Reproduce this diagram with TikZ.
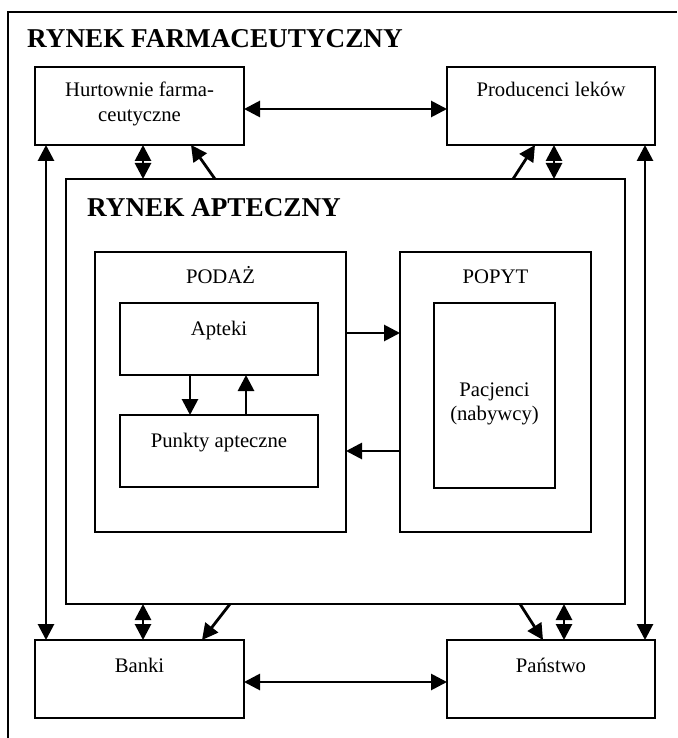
\documentclass[tikz,border=0pt]{standalone}
\usepackage{fontspec}
\setmainfont{Liberation Serif}
\usetikzlibrary{arrows.meta}
\begin{document}
\begin{tikzpicture}[x=1pt,y=-1pt,
  boxn/.style={draw,line width=1.8pt,rectangle,inner sep=0pt,outer sep=0pt,anchor=north west},
  txt/.style={inner sep=0pt,anchor=base,font=\fontsize{20.7}{24}\selectfont},
  ttl/.style={inner sep=0pt,anchor=base west,font=\fontsize{27.2}{30}\selectfont\bfseries},
  arr/.style={line width=2.8pt,-{Triangle[length=16pt,width=16pt]}},
  darr/.style={line width=2.8pt,{Triangle[length=16pt,width=16pt]}-{Triangle[length=16pt,width=16pt]}},
  frame/.style={line width=1.8pt}]
\useasboundingbox (0,0) rectangle (677,738);
% outer frame
\coordinate (fb) at (8,738);
\coordinate (ftl) at (8,12);
\coordinate (ftr) at (677,12);
\draw[frame] (fb) -- (ftl) -- (ftr);
\node[ttl] (t1) at (27,47.3) {RYNEK FARMACEUTYCZNY};
% boxes
\node[boxn,minimum width=209pt,minimum height=78pt] (hurt) at (35,67) {};
\node[boxn,minimum width=208pt,minimum height=78pt] (prod) at (447,67) {};
\node[boxn,minimum width=559pt,minimum height=425pt] (rynek) at (66,179) {};
\node[boxn,minimum width=251pt,minimum height=280pt] (podaz) at (95,252) {};
\node[boxn,minimum width=191pt,minimum height=280pt] (popyt) at (400,252) {};
\node[boxn,minimum width=198pt,minimum height=72pt] (apteki) at (120,303) {};
\node[boxn,minimum width=198pt,minimum height=72pt] (punkty) at (120,415) {};
\node[boxn,minimum width=121pt,minimum height=185pt] (pacj) at (434,303) {};
\node[boxn,minimum width=209pt,minimum height=78pt] (banki) at (35,640) {};
\node[boxn,minimum width=208pt,minimum height=78pt] (panstwo) at (447,640) {};
% texts
\node[txt] (th1) at (139.5,96.5) {Hurtownie farma-};
\node[txt] (th2) at (139.5,121.5) {ceutyczne};
\node[txt] (tp) at (551,97) {Producenci leków};
\node[ttl] (t2) at (87,216.5) {RYNEK APTECZNY};
\node[txt] (tpo) at (220.5,283) {PODAŻ};
\node[txt] (tap) at (219,335) {Apteki};
\node[txt] (tpu) at (219,447) {Punkty apteczne};
\node[txt] (tpy) at (495.5,283) {POPYT};
\node[txt] (tpa1) at (494.5,396) {Pacjenci};
\node[txt] (tpa2) at (494.5,420) {(nabywcy)};
\node[txt] (tb) at (139.5,672) {Banki};
\node[txt] (tpn) at (551,672) {Państwo};
% helper coordinates
\coordinate (xL) at (46,0);
\coordinate (xR) at (645,0);
\coordinate (xHd) at (143,0);
\coordinate (xPd) at (554,0);
\coordinate (xBd) at (143,0);
\coordinate (xSd) at (564,0);
\coordinate (yTop) at (0,109);
\coordinate (yBot) at (0,682);
\coordinate (yS1) at (0,333);
\coordinate (yS2) at (0,451);
\coordinate (xA1) at (190,0);
\coordinate (xA2) at (246,0);
\coordinate (hT) at (215,0);
\coordinate (hH) at (191,0);
\coordinate (pT) at (513,0);
\coordinate (pH) at (535,0);
\coordinate (bT) at (230,0);
\coordinate (bH) at (202,0);
\coordinate (sT) at (520,0);
\coordinate (sH) at (543,0);
% connectors
\draw[darr] (hurt.east |- yTop) -- (prod.west |- yTop);
\draw[darr] (banki.east |- yBot) -- (panstwo.west |- yBot);
\draw[darr] (hurt.south -| xL) -- (banki.north -| xL);
\draw[darr] (prod.south -| xR) -- (panstwo.north -| xR);
\draw[darr] (hurt.south -| xHd) -- (rynek.north -| xHd);
\draw[darr] (prod.south -| xPd) -- (rynek.north -| xPd);
\draw[darr] (rynek.south -| xBd) -- (banki.north -| xBd);
\draw[darr] (rynek.south -| xSd) -- (panstwo.north -| xSd);
\draw[arr] (rynek.north -| hT) -- (hurt.south -| hH);
\draw[arr] (rynek.north -| pT) -- (prod.south -| pH);
\draw[arr] (rynek.south -| bT) -- (banki.north -| bH);
\draw[arr] (rynek.south -| sT) -- (panstwo.north -| sH);
\draw[arr] (podaz.east |- yS1) -- (popyt.west |- yS1);
\draw[arr] (popyt.west |- yS2) -- (podaz.east |- yS2);
\draw[arr] (apteki.south -| xA1) -- (punkty.north -| xA1);
\draw[arr] (punkty.north -| xA2) -- (apteki.south -| xA2);
\end{tikzpicture}
\end{document}
